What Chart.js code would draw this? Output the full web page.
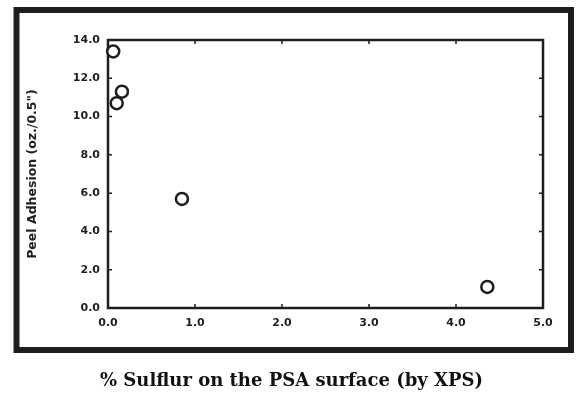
<!DOCTYPE html>
<html>
<head>
<meta charset="utf-8">
<script src="https://cdn.jsdelivr.net/npm/chart.js@4.4.1/dist/chart.umd.min.js"></script>
<style>
  html, body { margin: 0; padding: 0; background: #fff; }
  #wrap { width: 580px; height: 396px; }
</style>
</head>
<body>
<div id="wrap"><canvas id="chart" width="580" height="396"></canvas></div>
<script>
// Data
const sulfurPct = [0.06, 0.10, 0.16, 0.85, 4.36];
const peelAdhesion = [13.4, 10.7, 11.3, 5.7, 1.1];
const xTicks = [0, 1, 2, 3, 4, 5];
const yTicks = [0, 2, 4, 6, 8, 10, 12, 14];
const caption = "% Sulflur on the PSA surface (by XPS)";

const ink = "#1e1e1e";

// plot frame with small inward ticks, the outer box of the figure and the caption under it
const framePlugin = {
  id: "frame",
  beforeDatasetsDraw(chart) {
    const { ctx, chartArea: a, scales } = chart;
    ctx.save();
    ctx.strokeStyle = ink;
    ctx.lineWidth = 6;
    ctx.strokeRect(16.5, 10, 554.5, 340);

    ctx.lineWidth = 2.5;
    ctx.strokeRect(a.left, a.top, a.right - a.left, a.bottom - a.top);

    ctx.lineWidth = 1.5;
    ctx.beginPath();
    xTicks.forEach((v) => {
      const x = scales.x.getPixelForValue(v);
      ctx.moveTo(x, a.bottom); ctx.lineTo(x, a.bottom - 4);
      ctx.moveTo(x, a.top); ctx.lineTo(x, a.top + 4);
    });
    yTicks.forEach((v) => {
      const y = scales.y.getPixelForValue(v);
      ctx.moveTo(a.left, y); ctx.lineTo(a.left + 4, y);
      ctx.moveTo(a.right, y); ctx.lineTo(a.right - 4, y);
    });
    ctx.stroke();

    ctx.fillStyle = "#111";
    ctx.font = "bold 18px 'DejaVu Serif'";
    ctx.textAlign = "center";
    ctx.textBaseline = "middle";
    ctx.fillText(caption, 291.5, 381);
    ctx.restore();
  },
};

const tickFont = { family: "'DejaVu Sans'", size: 11, weight: "bold" };

new Chart(document.getElementById("chart"), {
  type: "scatter",
  data: {
    datasets: [
      {
        data: sulfurPct.map((x, i) => ({ x: x, y: peelAdhesion[i] })),
        pointStyle: "circle",
        pointRadius: 6,
        pointHoverRadius: 6,
        borderWidth: 2.5,
        borderColor: ink,
        backgroundColor: "#ffffff",
        clip: false,
      },
    ],
  },
  options: {
    responsive: false,
    animation: false,
    layout: { padding: { top: 40, right: 37, left: 20, bottom: 3 } },
    plugins: {
      legend: { display: false },
      tooltip: { enabled: false },
    },
    scales: {
      x: {
        type: "linear",
        min: 0,
        max: 5,
        afterBuildTicks: (s) => { s.ticks = xTicks.map((v) => ({ value: v })); },
        afterFit: (s) => { s.height = 85; },
        grid: { display: false, drawTicks: false },
        border: { display: false },
        ticks: {
          color: ink,
          font: tickFont,
          padding: 9,
          maxRotation: 0,
          callback: (v) => Number(v).toFixed(1),
        },
      },
      y: {
        type: "linear",
        min: 0,
        max: 14,
        afterBuildTicks: (s) => { s.ticks = yTicks.map((v) => ({ value: v })); },
        afterFit: (s) => { s.width = 88; },
        grid: { display: false, drawTicks: false },
        border: { display: false },
        ticks: {
          color: ink,
          font: tickFont,
          padding: 8,
          callback: (v) => Number(v).toFixed(1),
        },
        title: {
          display: true,
          text: "Peel Adhesion (oz./0.5\")",
          color: ink,
          font: { family: "'DejaVu Sans'", size: 12.5, weight: "bold" },
          padding: { top: 5.5, bottom: 0 },
        },
      },
    },
  },
  plugins: [framePlugin],
});
</script>
</body>
</html>
